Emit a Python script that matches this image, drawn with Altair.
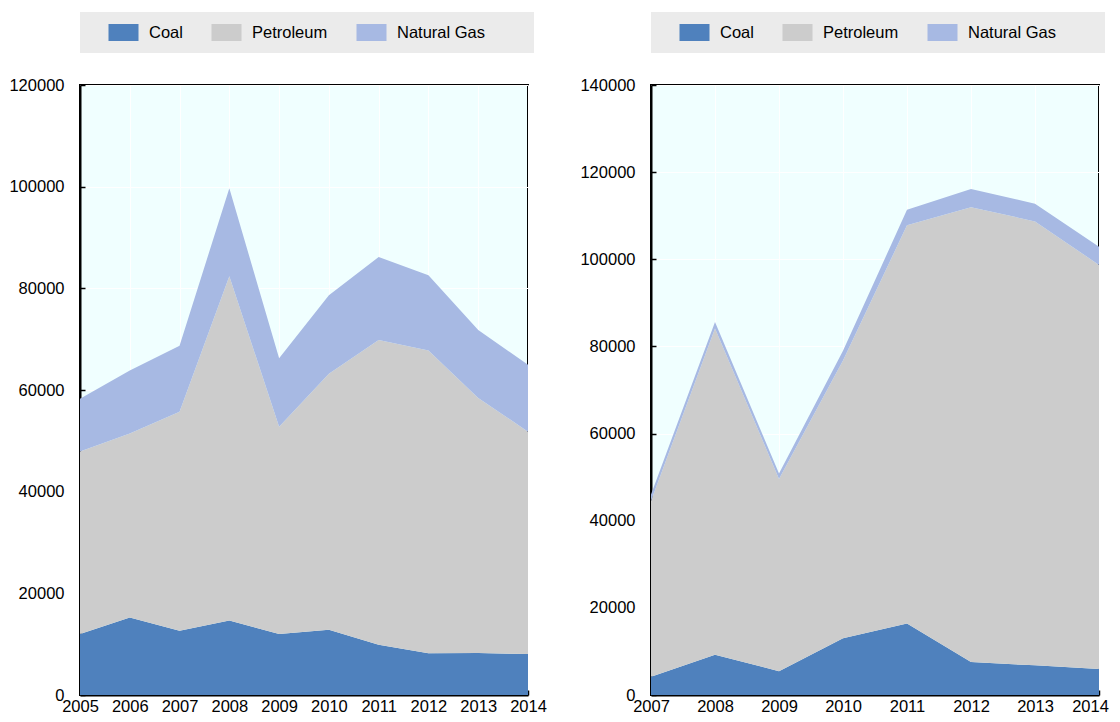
import altair as alt
import pandas as pd

fuels = ["Coal", "Petroleum", "Natural Gas"]
colors = ["#4F81BD", "#CCCCCC", "#A7B9E3"]

# Left panel
years_a = [2005, 2006, 2007, 2008, 2009, 2010, 2011, 2012, 2013, 2014]
coal_a = [12000, 15250, 12650, 14650, 12000, 12850, 9900, 8200, 8250, 8050]
petroleum_a = [35900, 36200, 43050, 67750, 40750, 50350, 59950, 59550, 50200, 43750]
gas_a = [10400, 12400, 13000, 17300, 13500, 15450, 16300, 14800, 13350, 13150]
ymax_a = 120000

# Right panel
years_b = [2007, 2008, 2009, 2010, 2011, 2012, 2013, 2014]
coal_b = [4200, 9250, 5450, 13000, 16400, 7550, 6800, 5950]
petroleum_b = [40300, 74850, 44100, 63750, 91400, 104400, 101900, 92750]
gas_b = [1500, 1500, 1300, 2250, 3550, 4200, 4050, 4150]
ymax_b = 140000

FONT = "Liberation Sans"
FS = 16.5
W, H = 448, 610
SPACER = "\u2800" * 3


def frame(years, coal, pet, gas):
    rows = []
    for i, yr in enumerate(years):
        for k, (f, v) in enumerate(zip(fuels, [coal[i], pet[i], gas[i]])):
            rows.append({"year": yr, "fuel": f, "k": k, "value": v})
    return pd.DataFrame(rows)


def panel(df, years, ymax, last_shift):
    yvals = list(range(0, ymax + 1, 20000))
    xscale = alt.Scale(domain=[years[0], years[-1]], nice=False, zero=False)
    yscale = alt.Scale(domain=[0, ymax], nice=False)
    xaxis = dict(orient="bottom", values=years, format="d", ticks=False,
                 grid=True, gridColor="#FFFFFF", gridWidth=1,
                 labelPadding=3, title=None, domainColor="#000000",
                 domainWidth=2, labelFlush=False)
    if last_shift:
        xaxis["labelOffset"] = alt.ExprRef(
            "datum.value == %d ? %d : 0" % (years[-1], last_shift))
    area = alt.Chart(df).mark_area(opacity=1).encode(
        x=alt.X("year:Q", scale=xscale, axis=alt.Axis(**xaxis)),
        y=alt.Y("value:Q", stack="zero", scale=yscale,
                axis=alt.Axis(orient="left", values=yvals, format="d", ticks=False,
                              grid=True, gridColor="#FFFFFF", gridWidth=1,
                              labelPadding=16, title=None, domainColor="#000000",
                              domainWidth=2)),
        color=alt.Color("fuel:N", sort=fuels,
                        scale=alt.Scale(domain=fuels, range=colors),
                        legend=alt.Legend(
                            orient="top", direction="horizontal", title="\u00a0",
                            titleOrient="left", titleFontSize=1, titlePadding=23,
                            fillColor="#EBEBEB", padding=12, offset=32,
                            symbolType="M-1.765,-1H1.765V1H-1.765Z", symbolSize=289,
                            symbolStrokeWidth=0, labelOffset=17, columnPadding=28,
                            labelFont=FONT, labelFontSize=FS, labelColor="#000000",
                            labelExpr="datum.label == 'Natural Gas' ? datum.label + '" + SPACER + "' : datum.label",
                        )),
        order=alt.Order("k:Q"),
    )
    ticks = alt.Chart(df).mark_area(opacity=0).encode(
        x=alt.X("year:Q", scale=xscale,
                axis=alt.Axis(orient="top", offset=-H, values=years, labels=False,
                              domain=False, grid=False, ticks=True, tickSize=5,
                              tickWidth=1.5, tickColor="#000000", title=None)),
        y=alt.Y("value:Q", stack="zero", scale=yscale,
                axis=alt.Axis(orient="right", offset=-W, values=yvals, labels=False,
                              domain=False, grid=False, ticks=True, tickSize=5,
                              tickWidth=1.5, tickColor="#000000", title=None)),
        detail="fuel:N",
        order=alt.Order("k:Q"),
    )
    return alt.layer(area, ticks).properties(width=W, height=H)


left = panel(frame(years_a, coal_a, petroleum_a, gas_a), years_a, ymax_a, 0)
right = panel(frame(years_b, coal_b, petroleum_b, gas_b), years_b, ymax_b, -9)

chart = alt.hconcat(left, right, spacing=30).resolve_scale(color="independent").properties(
    padding={"left": -1, "top": 3, "right": 0, "bottom": 0},
    background="#FFFFFF",
).configure_view(
    fill="#F0FFFF", stroke="#000000", strokeWidth=2
).configure_axis(
    labelFont=FONT, labelFontSize=FS, labelColor="#000000"
)

chart.save("out.html", embed_options={"renderer": "svg", "actions": False})
